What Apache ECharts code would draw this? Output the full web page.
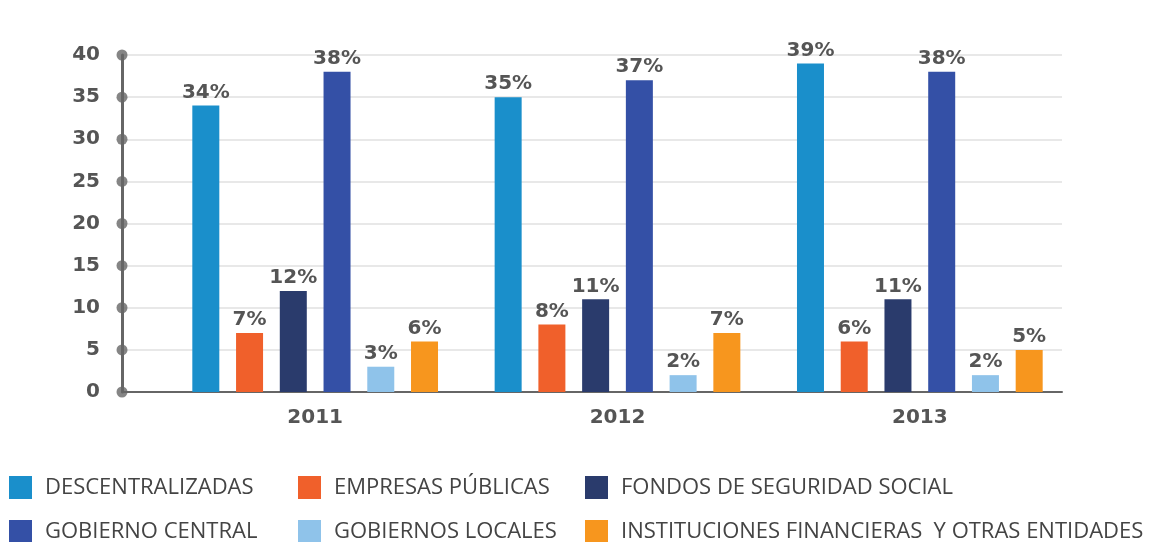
<!DOCTYPE html>
<html>
<head>
<meta charset="utf-8">
<script src="https://cdn.jsdelivr.net/npm/echarts@6/dist/echarts.min.js"></script>
<style>
html,body{margin:0;padding:0;background:#fff;}
#c{width:1151px;height:542px;}
</style>
</head>
<body>
<div id="c"></div>
<script>
var years = ['2011', '2012', '2013'];
var seriesNames = ['DESCENTRALIZADAS', 'EMPRESAS PÚBLICAS', 'FONDOS DE SEGURIDAD SOCIAL', 'GOBIERNO CENTRAL', 'GOBIERNOS LOCALES', 'INSTITUCIONES FINANCIERAS  Y OTRAS ENTIDADES'];
var descentralizadas = [34, 35, 39];
var empresasPublicas = [7, 8, 6];
var fondosSeguridad = [12, 11, 11];
var gobiernoCentral = [38, 37, 38];
var gobiernosLocales = [3, 2, 2];
var instituciones = [6, 7, 5];
var yTicks = [0, 5, 10, 15, 20, 25, 30, 35, 40];
var colors = ['#1a8fcb', '#f0602b', '#2a3b6c', '#3450a6', '#8fc3ea', '#f7961e'];

var allValues = [descentralizadas, empresasPublicas, fondosSeguridad, gobiernoCentral, gobiernosLocales, instituciones];

var labelFont = 'DejaVu Sans';
var barSeries = allValues.map(function (vals, i) {
  return {
    name: seriesNames[i],
    type: 'bar',
    xAxisIndex: 0,
    yAxisIndex: 0,
    data: vals,
    barWidth: 27,
    barGap: '62%',
    itemStyle: { color: colors[i] },
    label: {
      show: true,
      position: 'top',
      distance: 3,
      formatter: '{c}%',
      fontFamily: labelFont,
      fontWeight: 'bold',
      fontSize: 20,
      color: '#555'
    }
  };
});

var chart = echarts.init(document.getElementById('c'), null, { renderer: 'canvas' });
var legendText = { fontFamily: "'Open Sans', sans-serif", fontSize: 22, color: '#444', lineHeight: 23, padding: [0, 0, 0, 8] };
function mkLegend(left, top, name) {
  return {
    left: left, top: top, orient: 'horizontal', icon: 'rect',
    itemWidth: 23, itemHeight: 23,
    selectedMode: false, padding: 0,
    textStyle: legendText,
    data: [name]
  };
}
chart.setOption({
  animation: false,
  backgroundColor: '#fff',
  grid: [
    { left: 164, right: 80, top: 55, bottom: 150 },
    { left: 122, right: 89, top: 55, bottom: 150 }
  ],
  legend: [
    mkLegend(9, 476, seriesNames[0]),
    mkLegend(298, 476, seriesNames[1]),
    mkLegend(585, 476, seriesNames[2]),
    mkLegend(9, 520, seriesNames[3]),
    mkLegend(298, 520, seriesNames[4]),
    mkLegend(585, 520, seriesNames[5])
  ],
  xAxis: [
    {
      type: 'category', gridIndex: 0, data: years,
      axisLine: { show: false }, axisTick: { show: false },
      axisLabel: { margin: 16, fontFamily: labelFont, fontWeight: 'bold', fontSize: 20, color: '#555' }
    },
    {
      type: 'value', gridIndex: 1, min: 0, max: 1,
      axisLine: { show: true, lineStyle: { color: '#666', width: 2 } },
      axisTick: { show: false }, axisLabel: { show: false }, splitLine: { show: false }
    }
  ],
  yAxis: [
    { type: 'value', gridIndex: 0, min: 0, max: 40, interval: 5, show: false },
    {
      type: 'value', gridIndex: 1, min: 0, max: 40, interval: 5,
      axisLine: { show: true, lineStyle: { color: '#666', width: 3 } },
      axisTick: { show: false },
      axisLabel: { margin: 22, fontFamily: labelFont, fontWeight: 'bold', fontSize: 20, color: '#555' },
      splitLine: { show: true, lineStyle: { color: '#e0e0e0', width: 1.5 } }
    }
  ],
  series: barSeries.concat([{
    type: 'scatter', xAxisIndex: 1, yAxisIndex: 1, clip: false, silent: true,
    symbol: 'circle', symbolSize: 11, itemStyle: { color: '#666' },
    data: yTicks.map(function (t) { return [0, t]; }),
    z: 5
  }])
});
</script>
</body>
</html>
